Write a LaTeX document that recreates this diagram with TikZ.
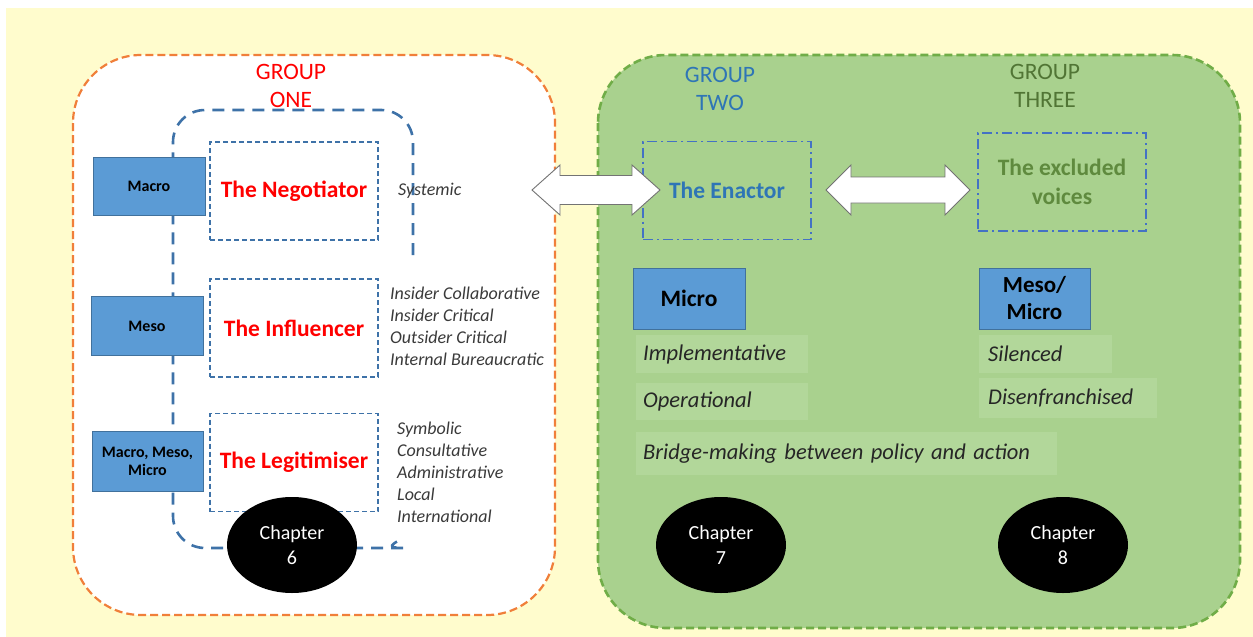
\documentclass[tikz,border=0pt]{standalone}
\usepackage{fontspec}
\setmainfont{Carlito}
\usetikzlibrary{shapes.geometric}

\definecolor{paper}{HTML}{FFFCCD}
\definecolor{orangeedge}{HTML}{F07F3A}
\definecolor{greenfill}{HTML}{A9D18E}
\definecolor{greenedge}{HTML}{70AD47}
\definecolor{greenbar}{HTML}{B2D79A}
\definecolor{levelblue}{HTML}{5B9BD5}
\definecolor{leveledge}{HTML}{41719C}
\definecolor{loopblue}{HTML}{3E72A8}
\definecolor{dashblue}{HTML}{4472C4}
\definecolor{roleblue}{HTML}{2E75B6}
\definecolor{olive}{HTML}{5F8A3E}
\definecolor{listgray}{HTML}{3A3A3A}

\tikzset{
  groupbox/.style={rounded corners=68pt, line width=2.2pt},
  level/.style={draw=leveledge, line width=0.8pt, fill=levelblue, text=black,
    font=\bfseries\fontsize{16}{18}\selectfont, align=center, inner sep=0pt},
  rolebox/.style={draw=loopblue, line width=1.8pt, dash pattern=on 5pt off 3pt,
    minimum width=168pt, minimum height=98pt, inner sep=0pt,
    font=\bfseries\fontsize{23.5}{27}\selectfont, align=center},
  dotbox/.style={draw=dashblue, line width=1.8pt,
    dash pattern=on 10pt off 4pt on 2pt off 4pt,
    minimum width=168pt, minimum height=98pt, inner sep=0pt,
    font=\bfseries\fontsize{23.5}{29}\selectfont, align=center},
  roletag/.style={font=\itshape\fontsize{18}{22}\selectfont, text=listgray,
    align=left, inner sep=0pt, anchor=west},
  bar/.style={fill=greenbar, inner xsep=7pt, inner ysep=0pt, anchor=north west,
    font=\itshape\fontsize{22.5}{24}\selectfont, text=black!85, align=left},
  chapter/.style={ellipse, fill=black, text=white, minimum width=130pt,
    minimum height=96pt, inner sep=0pt, align=center,
    font=\fontsize{20}{25}\selectfont},
  grouptitle/.style={font=\fontsize{23.5}{28}\selectfont, align=center, inner sep=0pt},
  linkarrow/.style={draw=black!55, fill=white, line width=0.9pt, line join=miter}
}

% horizontal two-headed block arrow: #1 left tip x, #2 right tip x, #3 centre y,
% #4 head length, #5 half height of the head, #6 half height of the shaft
\newcommand\blockarrow[6]{%
  \draw[linkarrow] (#1,#3) -- (#1+#4,#3-#5) -- (#1+#4,#3-#6) -- (#2-#4,#3-#6)
    -- (#2-#4,#3-#5) -- (#2,#3) -- (#2-#4,#3+#5) -- (#2-#4,#3+#6)
    -- (#1+#4,#3+#6) -- (#1+#4,#3+#5) -- cycle;}

\begin{document}
\begin{tikzpicture}[x=1pt, y=-1pt]
\useasboundingbox (0,0) rectangle (1253,637);
\fill[white] (0,0) rectangle (1253,637);
\fill[paper] (6,8) rectangle (1253,637);

% the two group panels
\draw[groupbox, draw=orangeedge, fill=white, dash pattern=on 8pt off 4pt]
  (73,55) rectangle (555,615);
\draw[groupbox, draw=greenedge, fill=greenfill, line width=2.6pt,
  dash pattern=on 8pt off 4pt] (598,55) rectangle (1240,628);

% group titles
\node[grouptitle, text=red] (g1) at (291,86) {GROUP\\ONE};
\node[grouptitle, text=roleblue] (g2) at (720,89) {GROUP\\TWO};
\node[grouptitle, text=olive!85!black] (g3) at (1045,86) {GROUP\\THREE};

% dashed loop enclosing the group one roles
\draw[loopblue, line width=2.6pt, dash pattern=on 12pt off 8pt, rounded corners=32pt]
  (413,255) -- (413,110) -- (173,110) -- (173,548) -- (372,548)
  to[out=0, in=-150] (403,538);

% levels of group one
\node[level, minimum width=112pt, minimum height=58pt] (macro) at (149,186) {Macro};
\node[level, minimum width=112pt, minimum height=59pt] (meso) at (147,326) {Meso};
\node[level, minimum width=111pt, minimum height=60pt] (mmm) at (147.5,461)
  {Macro, Meso,\\Micro};

% group one roles
\node[rolebox, text=red] (neg) at (294,191) {The Negotiator};
\node[rolebox, text=red] (inf) at (294,328) {The Influencer};
\node[rolebox, text=red] (leg) at (294,462.5) {The Legitimiser};

\node[roletag] (sys) at (398,191) {Systemic};
\node[roletag] (inftags) at (390,326)
  {Insider Collaborative\\Insider Critical\\Outsider Critical\\Internal Bureaucratic};
\node[roletag] (legtags) at (397,472)
  {Symbolic\\Consultative\\Administrative\\Local\\International};

\node[chapter] (ch6) at (292,545) {Chapter\\6};

% group two and three roles
\node[dotbox, text=roleblue] (ena) at (727,190.5) {The Enactor};
\node[dotbox, text=olive] (exc) at (1062,182) {The excluded\\voices};

% links between the groups
\blockarrow{532}{660}{190}{28}{25}{14.5}
\blockarrow{826}{970}{190}{25}{25}{13}

\node[level, minimum width=112pt, minimum height=61pt,
  font=\bfseries\fontsize{23.5}{26}\selectfont] (micro) at (689,298.5) {Micro};
\node[level, minimum width=111pt, minimum height=61pt,
  font=\bfseries\fontsize{23}{27}\selectfont] (mesomicro) at (1034.5,298.5)
  {Meso/\\Micro};

\node[bar, minimum width=172pt, minimum height=38pt, text width=158pt] (impl)
  at (636,335) {Implementative};
\node[bar, minimum width=172pt, minimum height=37pt, text width=158pt] (oper)
  at (636,383) {Operational};
\node[bar, minimum width=421pt, minimum height=43pt, text width=407pt] (bridge)
  at (636,432) {Bridge-making between policy and action};
\node[bar, minimum width=133pt, minimum height=38pt, text width=115pt, inner xsep=9pt]
  (sil) at (979,335) {Silenced};
\node[bar, minimum width=178pt, minimum height=40pt, text width=160pt, inner xsep=9pt]
  (dis) at (979,378) {Disenfranchised};

\node[chapter] (ch7) at (721,545) {Chapter\\7};
\node[chapter] (ch8) at (1063,545) {Chapter\\8};
\end{tikzpicture}
\end{document}
